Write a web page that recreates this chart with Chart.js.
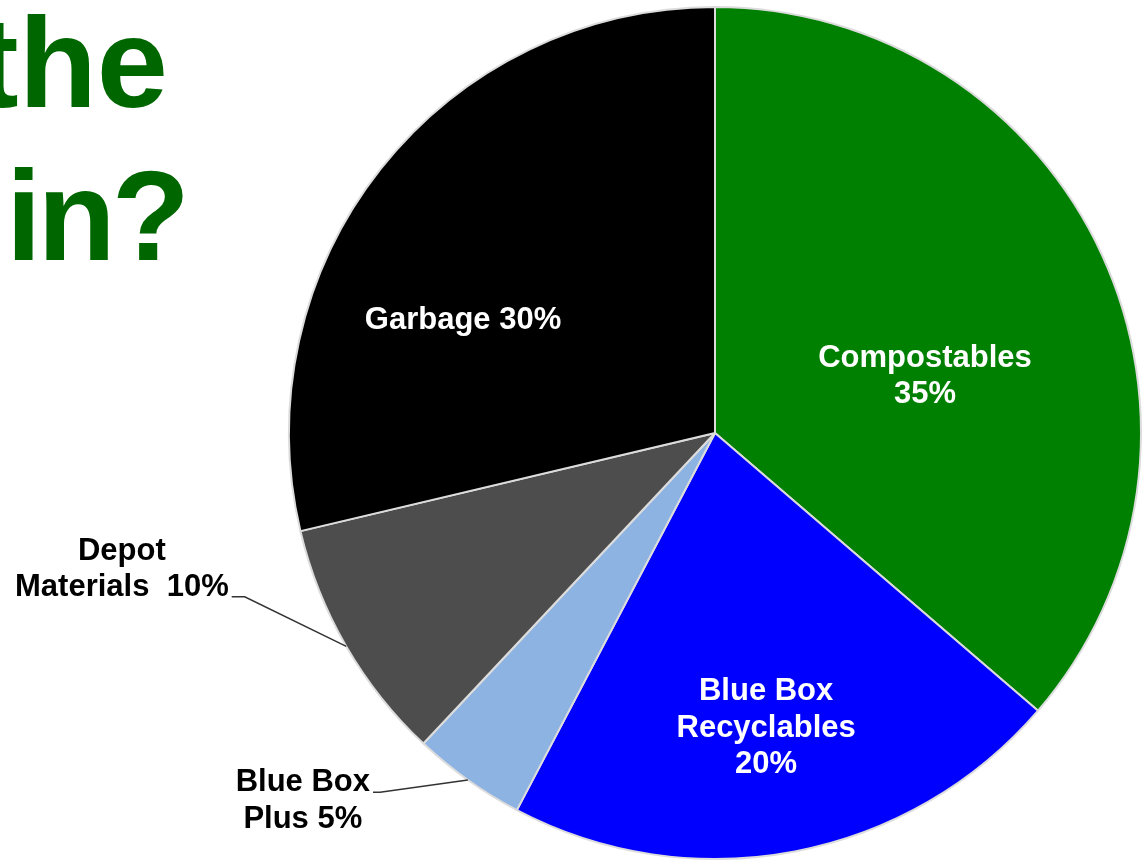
<!DOCTYPE html>
<html>
<head>
<meta charset="utf-8">
<script src="https://cdn.jsdelivr.net/npm/chart.js@4.4.1/dist/chart.umd.min.js"></script>
<style>
    html, body { margin: 0; padding: 0; background: #fff; overflow: hidden; }
    #wrap { position: relative; width: 1142px; height: 860px; }
    #chart { position: absolute; left: 0; top: 0; }
    .title {
        position: absolute;
        font-family: "Liberation Sans", Arial, sans-serif;
        font-weight: bold;
        font-size: 128px;
        line-height: 1;
        color: #006600;
        white-space: nowrap;
    }
</style>
</head>
<body>
<div id="wrap">
    <canvas id="chart" width="1142" height="860"></canvas>
    <div class="title" style="left:-24px; top:-1px;">the</div>
    <div class="title" style="left:6px; top:152px; letter-spacing:-4px;">in?</div>
</div>
<script>
// -------------------------
// DATA
// -------------------------
const categories = ["Compostables", "Blue Box Recyclables", "Blue Box Plus", "Depot Materials", "Garbage"];
const shares = [36.3, 21.4, 4.3, 9.3, 28.7];   // slice sizes as drawn
const labelLines = [
    ["Compostables", "35%"],
    ["Blue Box", "Recyclables", "20%"],
    ["Blue Box", "Plus 5%"],
    ["Depot", "Materials  10%"],
    ["Garbage 30%"]
];
const sliceColors = ["#008000", "#0000ff", "#8db3e2", "#4d4d4d", "#000000"];

// label placement, angle in degrees clockwise from 12 o'clock, r as share of radius
const placement = [
    { inside: true, angle: 74.3, r: 0.512 },
    { inside: true, angle: 170.1, r: 0.698 },
    { inside: false, angle: 223.0, r: 1.153, tail: 7, dy: -1 },
    { inside: false, angle: 250.8, r: 1.169, tail: 13, dy: -37 },
    { inside: true, angle: 294.5, r: 0.65 }
];

const FONT = "bold 31px 'Liberation Sans', Arial, sans-serif";
const LINE_H = 36.5;
const CAP_H = 22;

// -------------------------
// LABELS
// -------------------------
const sliceLabels = {
    id: "sliceLabels",
    afterDatasetsDraw(chart) {
        const ctx = chart.ctx;
        const arcs = chart.getDatasetMeta(0).data;
        ctx.save();
        ctx.font = FONT;
        ctx.textAlign = "center";
        ctx.textBaseline = "alphabetic";
        arcs.forEach((arc, i) => {
            const { x, y, outerRadius, startAngle, endAngle } =
                arc.getProps(["x", "y", "outerRadius", "startAngle", "endAngle"], true);
            const p = placement[i];
            const lines = labelLines[i];
            const a = (p.angle - 90) * Math.PI / 180;
            const px = x + Math.cos(a) * outerRadius * p.r;
            const py = y + Math.sin(a) * outerRadius * p.r;

            if (p.inside) {
                const h = CAP_H + LINE_H * (lines.length - 1);
                ctx.fillStyle = "#ffffff";
                lines.forEach((t, k) => {
                    ctx.fillText(t, px, py - h / 2 + CAP_H + k * LINE_H);
                });
            } else {
                const mid = (startAngle + endAngle) / 2;
                const x0 = x + Math.cos(mid) * outerRadius;
                const y0 = y + Math.sin(mid) * outerRadius;
                const x2 = px - p.tail;
                ctx.strokeStyle = "#333333";
                ctx.lineWidth = 1.5;
                ctx.beginPath();
                ctx.moveTo(x0, y0);
                ctx.lineTo(px, py);
                ctx.lineTo(x2, py);
                ctx.stroke();

                const w = Math.max(...lines.map(t => ctx.measureText(t).width));
                const tx = x2 - 3 - w / 2;
                ctx.fillStyle = "#000000";
                lines.forEach((t, k) => {
                    ctx.fillText(t, tx, py + p.dy + k * LINE_H);
                });
            }
        });
        ctx.restore();
    }
};

// -------------------------
// CHART
// -------------------------
new Chart(document.getElementById("chart"), {
    type: "pie",
    data: {
        labels: categories,
        datasets: [{
            data: shares,
            backgroundColor: sliceColors,
            borderColor: "#dcdcdc",
            borderWidth: 2
        }]
    },
    options: {
        responsive: false,
        animation: false,
        layout: { padding: { left: 288, right: 0, top: 6, bottom: 0 } },
        plugins: {
            legend: { display: false },
            tooltip: { enabled: false }
        }
    },
    plugins: [sliceLabels]
});
</script>
</body>
</html>
